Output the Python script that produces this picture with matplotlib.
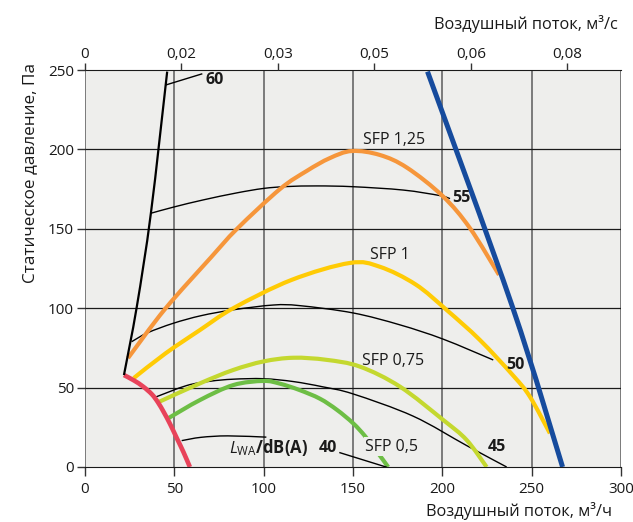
import matplotlib
matplotlib.use("Agg")
import matplotlib.pyplot as plt
from matplotlib.path import Path
from matplotlib.patches import PathPatch
from matplotlib import font_manager
import numpy as np

names = {f.name for f in font_manager.fontManager.ttflist}
FAM = 'Open Sans' if 'Open Sans' in names else 'Noto Sans'
plt.rcParams['font.family'] = [FAM, 'DejaVu Sans']
plt.rcParams['mathtext.fontset'] = 'custom'
plt.rcParams['mathtext.rm'] = FAM
plt.rcParams['mathtext.it'] = FAM + ':italic'
plt.rcParams['mathtext.bf'] = FAM + ':bold'

# ---- data (flow m3/h, static pressure Pa) ----
min_x = [21.8, 27.4, 32.6, 37.5, 40.9, 44.2, 47.6, 51.5, 55.1, 58.7]
min_y = [57.9, 54.5, 50.6, 45.7, 40.6, 34.3, 27.1, 17.9, 9.4, 0]

max_speed_x = [21.8, 29, 36.9, 46]
max_speed_y = [57.9, 101, 160, 249]

max_flow_x = [191.7, 239.2, 267.3]
max_flow_y = [249, 101, 0]

sfp125_x = [24.1, 44.8, 70.5, 85.1, 109.1, 124.2, 137, 149.4, 165, 180.2, 200.3, 215.4, 231.7]
sfp125_y = [68.6, 99.5, 132, 150, 175, 186.5, 194.5, 199, 196.5, 188.5, 170.5, 150.5, 121]

sfp1_x = [27.3, 45, 64.4, 83, 115.6, 148.3, 165, 185, 202.4, 221, 239.7, 249, 260.2]
sfp1_y = [56, 71.5, 86.3, 100, 117.8, 128.5, 126.1, 115, 98.9, 80, 57.5, 44.3, 21.2]

sfp075_x = [41.6, 64.4, 83, 100, 116.6, 135, 153.9, 176.3, 200.5, 213.6, 224.8]
sfp075_y = [41.1, 52.7, 61.1, 66.5, 68.8, 67.5, 63.2, 50.6, 29.6, 17, 0]

sfp05_x = [46.6, 64.4, 83, 99.8, 109, 120, 131.5, 141, 150.1, 156.7, 163.2, 169.7]
sfp05_y = [30.7, 42.2, 51.6, 54.2, 52.5, 48.5, 43, 36, 27.5, 19.5, 10, 0]

db55_x = [36.9, 50, 66.2, 84.9, 99.8, 112.9, 130, 150.1, 178.1, 198.7, 204.3]
db55_y = [159.8, 163.8, 168.2, 172.6, 175.4, 176.6, 177, 176.5, 174.4, 170.9, 169]

db50_x = [26.1, 35, 49.4, 65, 83, 105.4, 120.3, 150.1, 176.3, 200.5, 228.5]
db50_y = [78.9, 84.5, 90.5, 95.3, 99, 102, 101.6, 97, 89.5, 80.5, 67.4]

db45_x = [39.2, 56.9, 70, 83, 100, 116.6, 133, 150.1, 183.7, 213.6, 236]
db45_y = [43.9, 51.3, 54, 55.3, 55.6, 53.8, 50.5, 46, 32, 13.5, 0]

db40_x = [54.1, 65, 80, 101.5]
db40_y = [16.6, 18.7, 19.6, 18.8]

x_ticks = [0, 50, 100, 150, 200, 250, 300]
y_ticks = [0, 50, 100, 150, 200, 250]
top_ticks_m3s = [0, 0.015, 0.03, 0.045, 0.06, 0.075]
top_labels = ['0', '0,02', '0,03', '0,05', '0,06', '0,08']

sfp_labels = ['SFP 1,25', 'SFP 1', 'SFP 0,75', 'SFP 0,5']
sfp_label_pos = [(155.6, 205.9), (159.5, 133.5), (155, 66.8), (156.7, 12.8)]
db_labels = ['60', '55', '50', '45', '40']
db_label_pos = [(72.7, 243.7), (210.8, 169.1), (241, 64), (230.4, 12.8), (135.7, 12)]

FS = 11.5
TFS = 11

# ---- figure ----
fig = plt.figure(figsize=(6.33, 5.22), dpi=100)
ax = fig.add_axes([85/633, 55/522, 536/633, 397/522])
bg = '#EEEEEC'
ax.set_facecolor(bg)
ax.set_xlim(0, 300)
ax.set_ylim(0, 250)


def smooth_line(ax, xs, ys, **kw):
    """Draw a smooth curve through the given points (Catmull-Rom as cubic Bezier)."""
    disp = ax.transData.transform(np.column_stack([xs, ys]))
    n = len(disp)
    verts = [disp[0]]
    codes = [Path.MOVETO]
    for i in range(n - 1):
        p0 = disp[i - 1] if i > 0 else disp[i]
        p1 = disp[i]
        p2 = disp[i + 1]
        p3 = disp[i + 2] if i + 2 < n else disp[i + 1]
        c1 = p1 + (p2 - p0) / 6.0
        c2 = p2 - (p3 - p1) / 6.0
        verts += [c1, c2, p2]
        codes += [Path.CURVE4] * 3
    data_verts = ax.transData.inverted().transform(np.array(verts))
    patch = PathPatch(Path(data_verts, codes), facecolor='none',
                      transform=ax.transData, capstyle='butt', **kw)
    ax.add_patch(patch)


for v in x_ticks:
    ax.axvline(v, color='#7A7A7A', lw=1.4, zorder=1)
for v in y_ticks[1:-1]:
    ax.axhline(v, color='#1A1A1A', lw=0.9, zorder=1)

ax.set_xticks(x_ticks)
ax.set_yticks(y_ticks)
ax.tick_params(axis='x', labelsize=TFS, colors='#333333', length=6.5, width=1,
               labelcolor='#1A1A1A', pad=4)
ax.tick_params(axis='y', labelsize=TFS, colors='#333333', length=5.5, width=1,
               labelcolor='#1A1A1A', pad=2.5)
for s in ['left', 'right']:
    ax.spines[s].set_visible(False)
ax.spines['bottom'].set_color('#1A1A1A')
ax.spines['top'].set_color('#1A1A1A')

top = ax.twiny()
top.set_xlim(0, 300)
top.set_xticks([v * 3600 for v in top_ticks_m3s])
top.set_xticklabels(top_labels)
top.tick_params(axis='x', labelsize=TFS, colors='#333333', length=4.8, width=1,
                labelcolor='#1A1A1A', pad=1)
for s in ['left', 'right', 'bottom', 'top']:
    top.spines[s].set_visible(False)

# thin black dB lines
for xs, ys in [(db55_x, db55_y), (db50_x, db50_y), (db45_x, db45_y), (db40_x, db40_y)]:
    smooth_line(ax, xs, ys, edgecolor='black', lw=1.0, zorder=3)

# coloured curves
smooth_line(ax, sfp125_x, sfp125_y, edgecolor='#F6963B', lw=3.0, zorder=4)
smooth_line(ax, sfp1_x, sfp1_y, edgecolor='#FFCB05', lw=3.0, zorder=4)
smooth_line(ax, sfp075_x, sfp075_y, edgecolor='#C4D82F', lw=3.0, zorder=4)
smooth_line(ax, sfp05_x, sfp05_y, edgecolor='#6DBE45', lw=3.0, zorder=4)
smooth_line(ax, min_x, min_y, edgecolor='#E8435A', lw=3.3, zorder=5)
smooth_line(ax, max_speed_x, max_speed_y, edgecolor='black', lw=1.6, zorder=5)
smooth_line(ax, max_flow_x, max_flow_y, edgecolor='#164B9D', lw=3.6, zorder=6)

# leaders
ax.plot([45.3, 65.3], [240.6, 247.5], color='black', lw=1.0, zorder=5)
ax.plot([142.7, 168.5], [9, 0], color='black', lw=1.0, zorder=5)

for t, (x, y) in zip(sfp_labels, sfp_label_pos):
    kw = {}
    if t == 'SFP 0,5':
        kw['bbox'] = dict(facecolor=bg, edgecolor='none', pad=1)
    ax.text(x, y, t, fontsize=FS, ha='left', va='center', color='#1A1A1A', zorder=7, **kw)

for t, (x, y) in zip(db_labels, db_label_pos):
    ax.text(x, y, t, fontsize=FS, fontweight='bold', ha='center', va='center',
            color='#1A1A1A', zorder=7)

ax.text(125, 12, r'$\mathit{L}_{\mathrm{WA}}\mathbf{/dB(A)}$', fontsize=FS + 0.5,
        ha='right', va='center', color='#1A1A1A', zorder=7)

fig.text(612/633, 1 - 511/522, 'Воздушный поток, м³/ч', fontsize=FS + 0.3,
         ha='right', va='center', color='#1A1A1A')
fig.text(618/633, 1 - 24/522, 'Воздушный поток, м³/с', fontsize=FS + 0.3,
         ha='right', va='center', color='#1A1A1A')
fig.text(30/633, 1 - 63/522, 'Статическое давление, Па', fontsize=FS + 0.8,
         rotation=90, ha='center', va='top', color='#1A1A1A')

fig.savefig('out.png', dpi=100)
